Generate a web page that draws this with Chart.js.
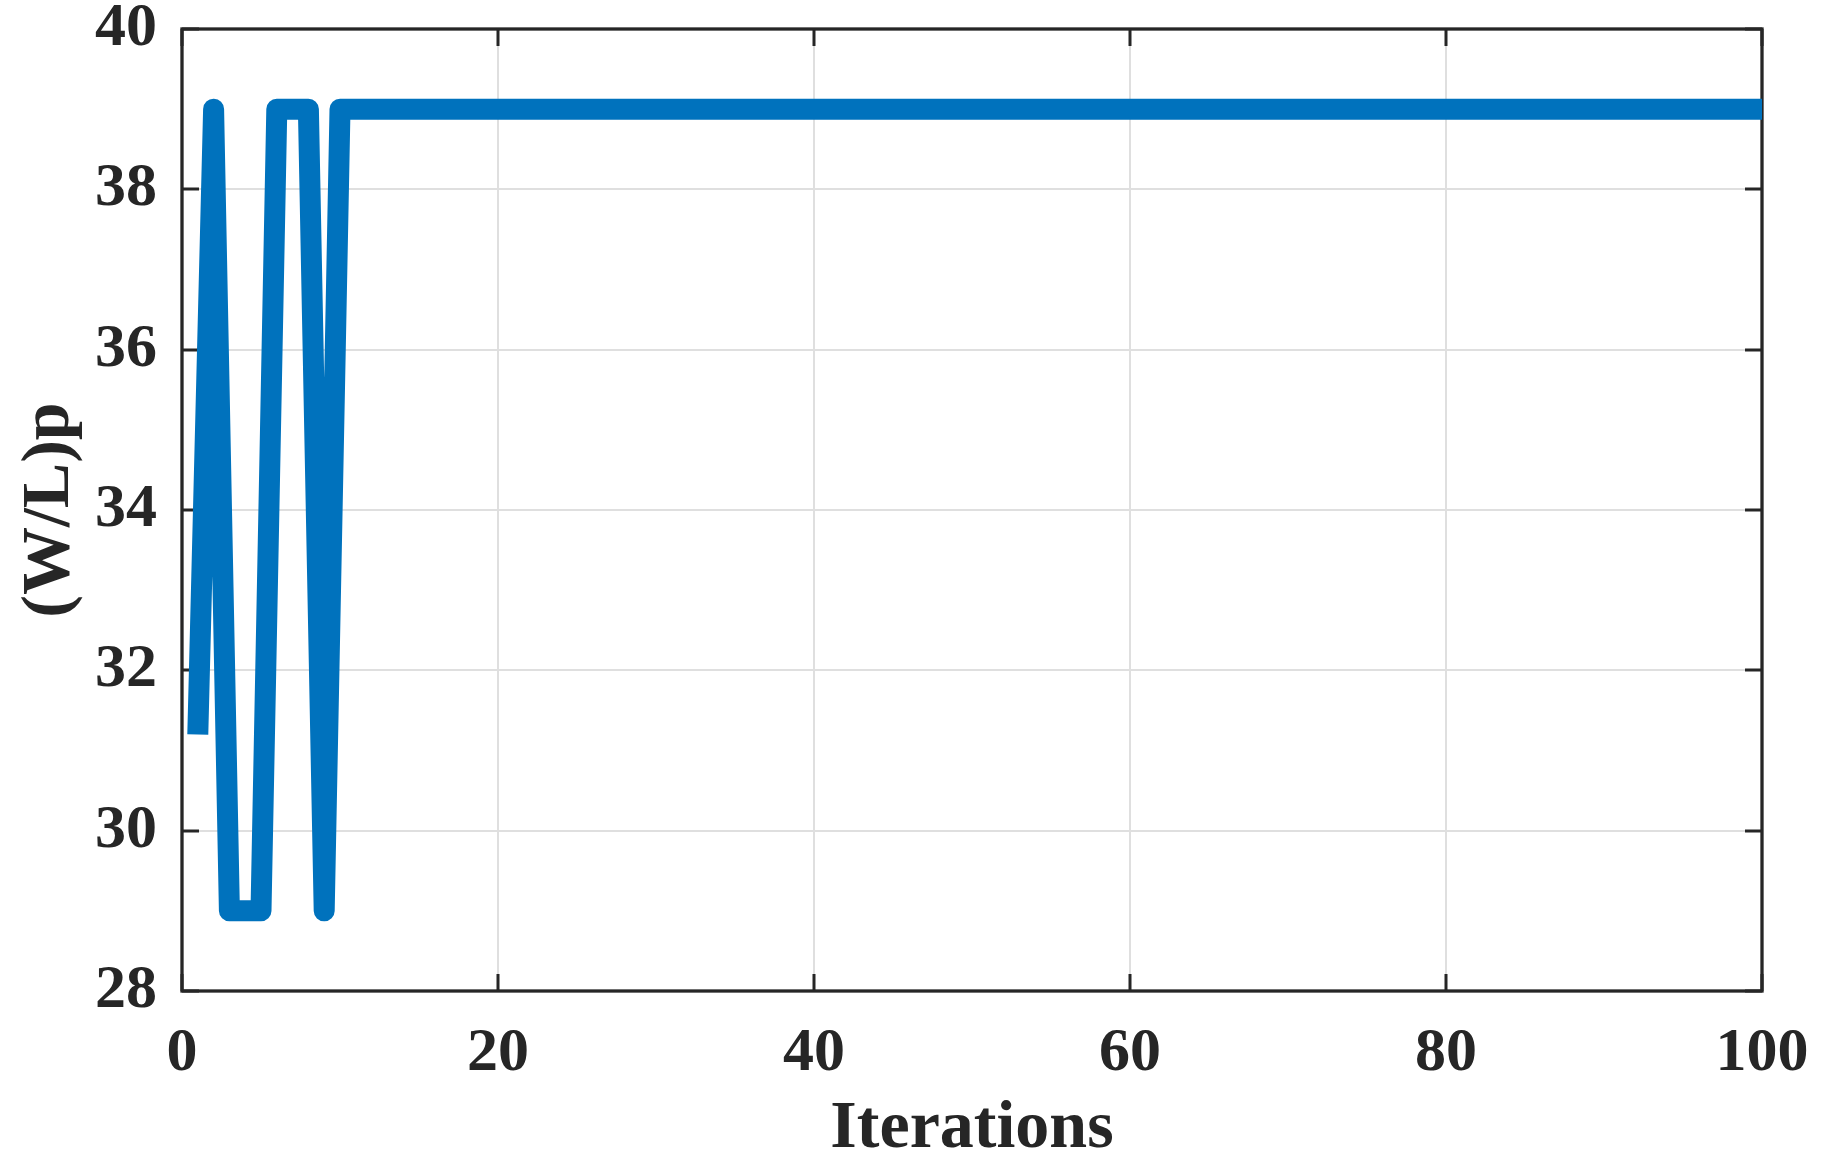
<!DOCTYPE html>
<html>
<head>
<meta charset="utf-8">
<script src="https://cdn.jsdelivr.net/npm/chart.js@4/dist/chart.umd.min.js"></script>
<style>
html,body{margin:0;padding:0;background:#fff;}
#wrap{width:1826px;height:1175px;}
</style>
</head>
<body>
<div id="wrap"><canvas id="c" width="1826" height="1175"></canvas></div>
<script>
// Data
const iterStart = 1;
const iterEnd = 100;
const earlyValues = [31.2, 39, 29, 29, 29, 39, 39, 39, 29, 39];
const settledValue = 39;
const xTicks = [0, 20, 40, 60, 80, 100];
const yTicks = [28, 30, 32, 34, 36, 38, 40];
const xTitle = 'Iterations';
const yTitle = '(W/L)p';

const points = [];
for (let i = iterStart; i <= iterEnd; i++) {
  const idx = i - iterStart;
  points.push({x: i, y: idx < earlyValues.length ? earlyValues[idx] : settledValue});
}

const AX = '#262626';
const FONT = '"Liberation Serif", "Times New Roman", Times, serif';

const framePlugin = {
  id: 'frame',
  beforeDatasetsDraw(chart) {
    const {ctx, chartArea: a, scales: {x, y}} = chart;
    ctx.save();
    ctx.strokeStyle = AX;
    ctx.lineWidth = 3;
    const tl = 17;
    ctx.beginPath();
    xTicks.forEach(v => {
      const px = Math.round(x.getPixelForValue(v));
      ctx.moveTo(px, a.bottom); ctx.lineTo(px, a.bottom - tl);
      ctx.moveTo(px, a.top); ctx.lineTo(px, a.top + tl);
    });
    yTicks.forEach(v => {
      const py = Math.round(y.getPixelForValue(v));
      ctx.moveTo(a.left, py); ctx.lineTo(a.left + tl, py);
      ctx.moveTo(a.right, py); ctx.lineTo(a.right - tl, py);
    });
    ctx.stroke();
    ctx.lineWidth = 3.3;
    ctx.strokeRect(a.left, a.top, a.right - a.left, a.bottom - a.top);
    ctx.restore();
  }
};

function draw() {
new Chart(document.getElementById('c'), {
  type: 'line',
  data: {
    datasets: [{
      data: points,
      borderColor: '#0072BD',
      borderWidth: 21,
      borderCapStyle: 'butt',
      borderJoinStyle: 'round',
      pointRadius: 0,
      fill: false,
      tension: 0
    }]
  },
  options: {
    responsive: false,
    animation: false,
    devicePixelRatio: 1,
    layout: {padding: {top: 29, right: 64, left: 0, bottom: 0}},
    plugins: {legend: {display: false}, tooltip: {enabled: false}},
    scales: {
      x: {
        type: 'linear', min: 0, max: 100,
        afterBuildTicks(s) { s.ticks = xTicks.map(v => ({value: v})); },
        afterFit(s) { s.height = 184; s.paddingLeft = 0; s.paddingRight = 0; },
        grid: {color: '#dfdfdf', lineWidth: 2, drawTicks: false},
        border: {display: false},
        ticks: {color: AX, padding: 26, font: {family: FONT, weight: 'bold', size: 62}, maxRotation: 0},
        title: {display: true, text: xTitle, color: AX, font: {family: FONT, weight: 'bold', size: 68}, padding: {top: 0, bottom: 5}}
      },
      y: {
        type: 'linear', min: 28, max: 40,
        afterBuildTicks(s) { s.ticks = yTicks.map(v => ({value: v})); },
        afterFit(s) { s.width = 182; s.paddingTop = 0; s.paddingBottom = 0; },
        grid: {color: '#dfdfdf', lineWidth: 2, drawTicks: false},
        border: {display: false},
        ticks: {color: AX, padding: 25, font: {family: FONT, weight: 'bold', size: 62}},
        title: {display: true, text: yTitle, color: AX, font: {family: FONT, weight: 'bold', size: 68}, padding: {top: 10, bottom: 0}}
      }
    }
  },
  plugins: [framePlugin]
});
}
if (document.fonts && document.fonts.load) {
  Promise.all([
    document.fonts.load('bold 62px "Liberation Serif"'),
    document.fonts.load('bold 68px "Liberation Serif"')
  ]).then(draw, draw);
} else { draw(); }
</script>
</body>
</html>
